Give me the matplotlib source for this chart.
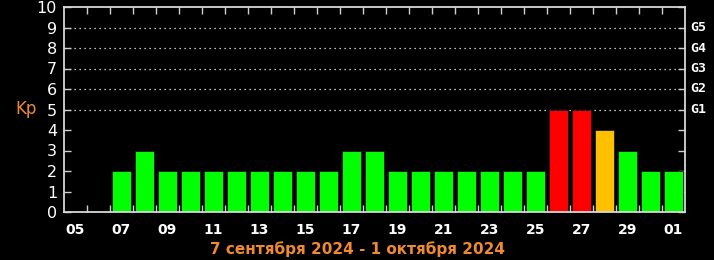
import numpy as np
import matplotlib
matplotlib.use("Agg")
import matplotlib.pyplot as plt

days = ["05", "06", "07", "08", "09", "10", "11", "12", "13", "14", "15", "16", "17", "18",
        "19", "20", "21", "22", "23", "24", "25", "26", "27", "28", "29", "30", "01"]
kp = [np.nan, np.nan, 2, 3, 2, 2, 2, 2, 2, 2, 2, 2, 3, 3,
      2, 2, 2, 2, 2, 2, 2, 5, 5, 4, 3, 2, 2]
g_levels = [5, 6, 7, 8, 9]
g_labels = ["G1", "G2", "G3", "G4", "G5"]
title = "7 сентября 2024 - 1 октября 2024"


def kp_color(v):
    if v >= 5:
        return "#ff0000"
    if v >= 4:
        return "#ffc000"
    return "#00ff00"


fig = plt.figure(figsize=(7.14, 2.6), dpi=100, facecolor="black")
ax = fig.add_axes([64 / 714, 48 / 260, 621 / 714, 205 / 260])
ax.set_facecolor("black")

x = np.arange(len(days)) + 0.5
vals = np.array(kp, dtype=float)
ok = ~np.isnan(vals)
ax.bar(x[ok], vals[ok], width=0.8, color=[kp_color(v) for v in vals[ok]],
       edgecolor="#1a1a1a", linewidth=0.6, zorder=2)

for lv in g_levels:
    ax.axhline(lv, color="white", linestyle=(0, (1, 3)), linewidth=0.9, zorder=1)

ax.set_xlim(0, len(days))
ax.set_ylim(0, 10)

ax.set_xticks(x[::2])
ax.set_xticklabels(days[::2], color="white", fontsize=10, fontweight="bold")
ax.set_xticks(np.arange(1, len(days)), minor=True)
ax.tick_params(axis="x", which="major", length=0, pad=8)
ax.tick_params(axis="x", which="minor", direction="in", length=5, top=True,
               bottom=True, color="#d0d0d0", width=1)

ax.set_yticks(range(0, 11))
ax.set_yticklabels([str(i) for i in range(11)], color="white", fontsize=11.5)
ax.tick_params(axis="y", direction="in", length=5, left=True, right=True,
               color="#d0d0d0", width=1, pad=5)

for s in ax.spines.values():
    s.set_color("#d8d8d8")
    s.set_linewidth(1.3)

for lv, g in zip(g_levels, g_labels):
    ax.text(1.009, lv, g, transform=ax.get_yaxis_transform(), color="white",
            fontsize=9.5, fontweight="bold", family="DejaVu Sans Mono", va="center")

fig.text(15 / 714, 1 - 109 / 260, "Kp", color="#f08a30", fontsize=12, va="center")
fig.text(0.5, 1 - 249 / 260, title, color="#f08a30", fontsize=11,
         fontweight="bold", ha="center", va="center")

fig.savefig("out.png", dpi=100, facecolor="black")
